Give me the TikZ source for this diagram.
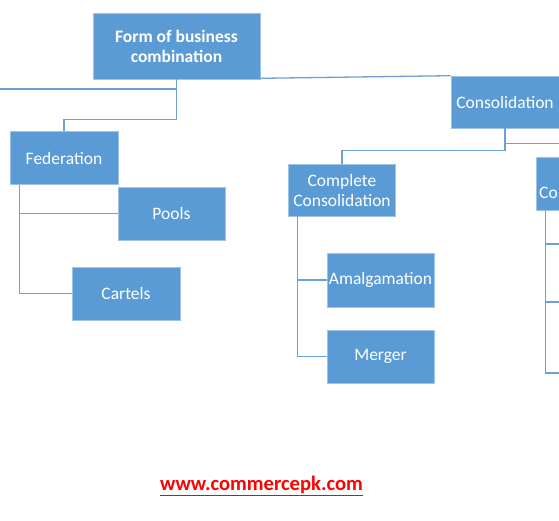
\documentclass[tikz,border=0pt]{standalone}
\usepackage{fontspec}
\setmainfont{Carlito}
\definecolor{boxblue}{HTML}{5B9BD5}
\definecolor{boxedge}{HTML}{9DC3E6}
\definecolor{linkblue}{HTML}{6E9FD6}
\definecolor{urlred}{HTML}{FF0000}
\tikzset{
  box/.style={rectangle, fill=boxblue, draw=boxedge, line width=0.6pt, text=white,
    font=\fontsize{17.5}{20}\selectfont, align=center, inner sep=0pt},
  conn/.style={draw=linkblue, line width=1.3pt}
}
\begin{document}
\begin{tikzpicture}[x=1pt,y=-1pt]
\useasboundingbox (0,0) rectangle (559,520);
\clip (0,0) rectangle (559,520);
\fill[white] (0,0) rectangle (559,520);
% nodes
\node[box, minimum width=167pt, minimum height=66pt, font=\bfseries\fontsize{17.5}{20}\selectfont] (top) at (176.5,46) {Form of business\\combination};
\node[box, minimum width=108pt, minimum height=53pt] (fed) at (64,158) {Federation};
\node[box, minimum width=107pt, minimum height=53pt] (pools) at (171.5,213.5) {Pools};
\node[box, minimum width=108pt, minimum height=53pt] (cartels) at (126,293.5) {Cartels};
\node[box, minimum width=108pt, minimum height=52pt] (cons) at (505,102) {Consolidation};
\node[box, minimum width=107pt, minimum height=52pt] (complete) at (342,190) {Complete\\Consolidation};
\node[box, minimum width=107pt, minimum height=53pt] (rbox) at (589.5,183.5) {};
\node[text=white, font=\fontsize{17.5}{20}\selectfont, anchor=base west, inner sep=0pt] (rtext) at (539,198) {Co};
\node[box, minimum width=107pt, minimum height=54pt] (amalg) at (380.5,280) {Amalgamation};
\node[box, minimum width=107pt, minimum height=53pt] (merger) at (380.5,356.5) {Merger};
\node[text=urlred, font=\bfseries\fontsize{20.6}{24}\selectfont, inner sep=0pt] (url) at (261.5,486) {\underline{www.commercepk.com}};
% free ends
\coordinate (L) at (0,89);
\coordinate (r1) at (570,244);
\coordinate (r2) at (570,302);
\coordinate (r3) at (570,373);
% connectors
\draw[conn] (top.south) -- ++(0,40) -| (fed.north);
\draw[conn] (top.south |- L) -- (L);
\draw[conn] ([yshift=1pt]top.south east) -- (cons.north west);
\draw[conn] (cons.south) -- ++(0,22) -| (complete.north);
\draw[conn] (cons.south) ++(0,15) -| (rbox.north);
\draw[conn] ([xshift=10pt]fed.south west) |- (pools.west);
\draw[conn] ([xshift=10pt]fed.south west) |- (cartels.west);
\draw[conn] ([xshift=9pt]complete.south west) |- (amalg.west);
\draw[conn] ([xshift=9pt]complete.south west) |- (merger.west);
\draw[conn] ([xshift=10pt]rbox.south west) |- (r1);
\draw[conn] ([xshift=10pt]rbox.south west) |- (r2);
\draw[conn] ([xshift=10pt]rbox.south west) |- (r3);
\end{tikzpicture}
\end{document}
